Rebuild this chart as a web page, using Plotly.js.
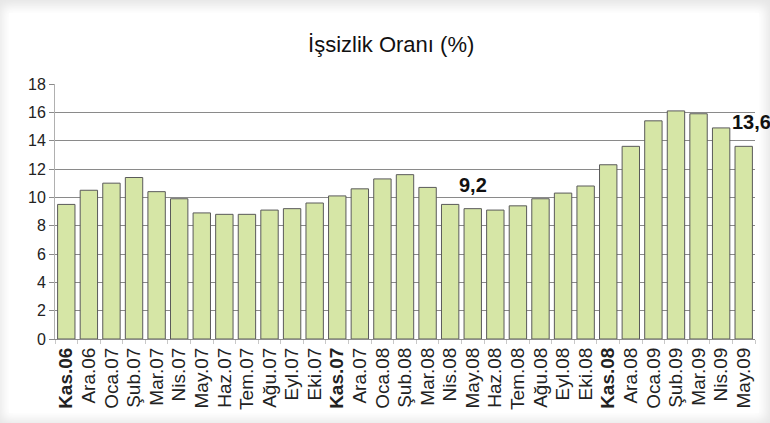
<!DOCTYPE html>
<html>
<head>
<meta charset="utf-8">
<script src="https://cdn.plot.ly/plotly-3.0.1.min.js"></script>
<style>
  html, body { margin:0; padding:0; width:770px; height:423px; overflow:hidden; background:#e6e6e6; }
  #panel { position:absolute; left:9px; top:13px; width:750px; height:400px; background:#fff; box-shadow:0 0 10px 7px #fff; }
  #chart { position:absolute; left:0; top:0; width:770px; height:423px; }
</style>
</head>
<body>
<div id="panel"></div>
<div id="chart"></div>
<script>
const months = ['Kas.06','Ara.06','Oca.07','Şub.07','Mar.07','Nis.07','May.07','Haz.07','Tem.07','Ağu.07','Eyl.07','Eki.07',
                'Kas.07','Ara.07','Oca.08','Şub.08','Mar.08','Nis.08','May.08','Haz.08','Tem.08','Ağu.08','Eyl.08','Eki.08',
                'Kas.08','Ara.08','Oca.09','Şub.09','Mar.09','Nis.09','May.09'];
const rates = [9.5,10.5,11.0,11.4,10.4,9.9,8.9,8.8,8.8,9.1,9.2,9.6,
               10.1,10.6,11.3,11.6,10.7,9.5,9.2,9.1,9.4,9.9,10.3,10.8,
               12.3,13.6,15.4,16.1,15.9,14.9,13.6];
const labelled = ['May.08','May.09'];
const yTicks = [0,2,4,6,8,10,12,14,16,18];
const titleText = 'İşsizlik Oranı (%)';

const fmt = v => v.toFixed(1).replace('.', ',');
const tickText = months.map(m => m.startsWith('Kas') ? '<b>' + m + '</b>' : m);

const annotations = labelled.map((m, k) => {
  const i = months.indexOf(m);
  return {
    x: m, y: rates[i], xref:'x', yref:'y', text:'<b>' + fmt(rates[i]) + '</b>',
    showarrow:false, yanchor:'bottom', yshift: 11, xshift: (k === labelled.length - 1 ? 8 : 0),
    font:{family:'Liberation Sans, Arial, sans-serif', size:20, color:'#111'}
  };
});

const trace = {
  type:'bar', x: months, y: rates,
  marker:{color:'#d6e6a6', line:{color:'#5a5a5a', width:1}},
  hoverinfo:'skip'
};

const layout = {
  width:770, height:423,
  margin:{l:55, r:15, t:84, b:84, autoexpand:false},
  paper_bgcolor:'rgba(0,0,0,0)', plot_bgcolor:'rgba(0,0,0,0)',
  bargap:0.23,
  showlegend:false,
  title:{text:titleText, x:0.508, xref:'container', xanchor:'center', y:0.896, yref:'container', yanchor:'middle',
         font:{family:'Liberation Sans, Arial, sans-serif', size:22, color:'#111'}},
  xaxis:{
    type:'category', tickmode:'array', tickvals:months, ticktext:tickText, automargin:false,
    range:[-0.5, months.length - 0.5], autorange:false,
    tickangle:-90, tickfont:{family:'Liberation Sans, Arial, sans-serif', size:19, color:'#222'},
    showline:true, linecolor:'#8c8c8c', linewidth:1,
    ticks:'outside', tickson:'boundaries', ticklen:4, tickcolor:'#c8c8c8',
    showgrid:false, zeroline:false, fixedrange:true
  },
  yaxis:{
    range:[0,18], autorange:false, tickmode:'array', tickvals:yTicks, automargin:false,
    tickfont:{family:'Liberation Sans, Arial, sans-serif', size:16, color:'#222'},
    showgrid:true, gridcolor:'#8a8a8a', gridwidth:1,
    showline:true, linecolor:'#b0b0b0', linewidth:1,
    ticks:'outside', ticklen:5, tickcolor:'#8a8a8a',
    zeroline:false, fixedrange:true
  },
  annotations: annotations
};

Plotly.newPlot('chart', [trace], layout, {displayModeBar:false, staticPlot:true});
</script>
</body>
</html>
